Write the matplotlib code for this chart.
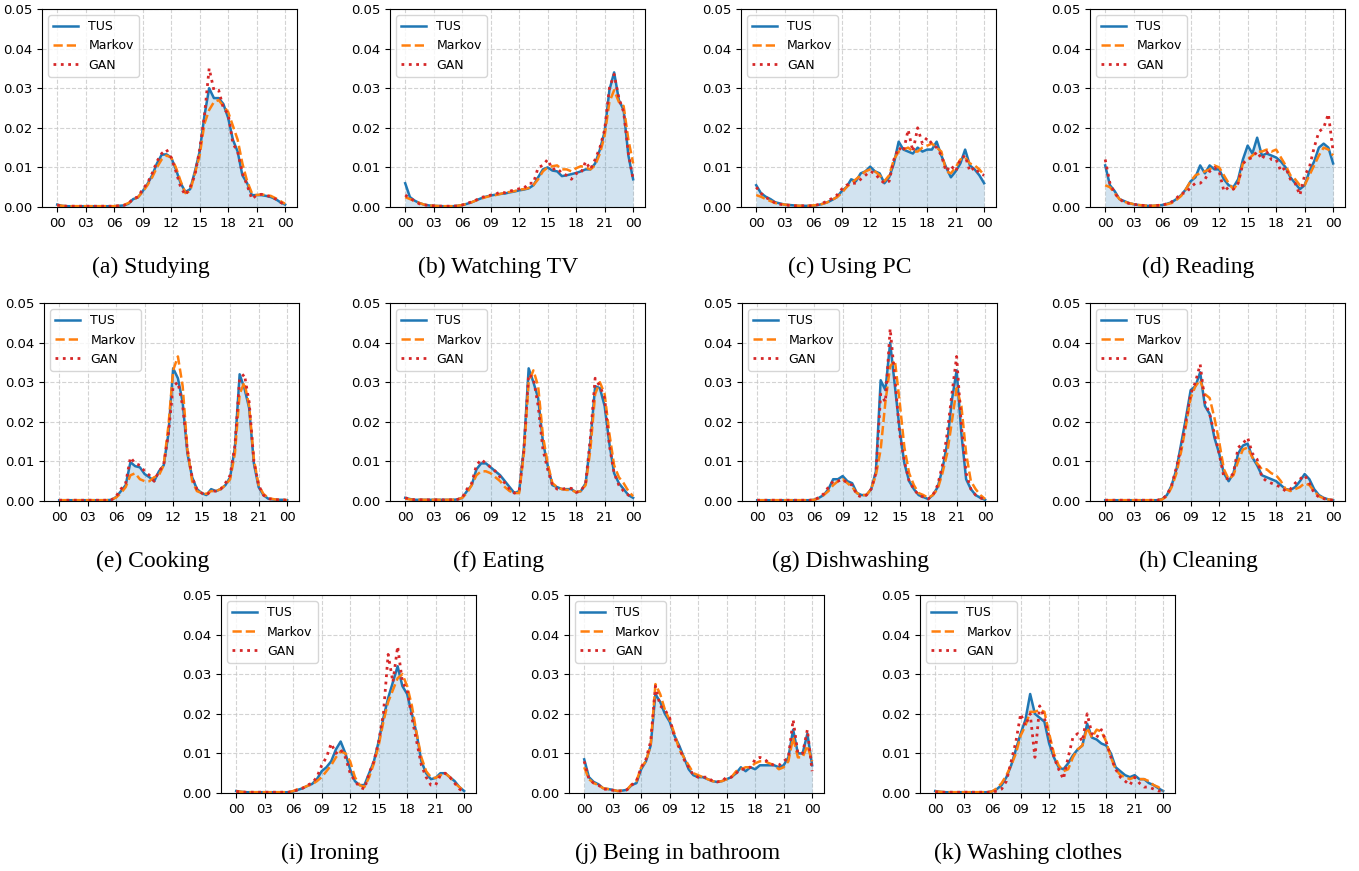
import numpy as np
import matplotlib.pyplot as plt
from matplotlib.ticker import FormatStrFormatter

# Half-hour time slots over the day (values below are in units of 1e-3)
hours = np.arange(0, 24.5, 0.5)
tick_hours = [0, 3, 6, 9, 12, 15, 18, 21, 24]
tick_labels = ["00", "03", "06", "09", "12", "15", "18", "21", "00"]
series_names = ["TUS", "Markov", "GAN"]

# (a) Studying
studying_tus = [0.6, 0.3, 0.2, 0.2, 0.2, 0.2, 0.2, 0.2, 0.2, 0.2, 0.2, 0.2,
                0.2, 0.3, 0.4, 0.8, 2.0, 2.4, 4.0, 5.8, 8.0, 11.0, 13.2, 13.3,
                12.5, 9.5, 6.0, 3.8, 4.5, 9.0, 14.0, 23.0, 30.0, 27.5, 27.5, 26.0,
                22.5, 17.0, 14.0, 8.0, 6.0, 3.0, 3.0, 3.0, 2.8, 2.5, 2.0, 1.2, 0.6]
studying_markov = [0.5, 0.3, 0.2, 0.2, 0.2, 0.2, 0.2, 0.2, 0.2, 0.2, 0.2, 0.2,
                   0.2, 0.3, 0.5, 1.0, 1.8, 2.5, 3.8, 5.5, 7.5, 10.0, 12.0, 13.0,
                   12.5, 10.0, 6.5, 3.5, 4.0, 8.5, 13.0, 21.0, 24.5, 26.5, 27.0, 25.5,
                   24.0, 20.5, 17.0, 11.0, 6.5, 3.5, 3.0, 3.2, 3.0, 2.8, 2.2, 1.5, 0.8]
studying_gan = [0.5, 0.3, 0.2, 0.2, 0.2, 0.2, 0.2, 0.2, 0.2, 0.2, 0.2, 0.2,
                0.2, 0.3, 0.4, 0.8, 2.2, 2.5, 4.5, 6.0, 8.5, 11.5, 13.5, 14.5,
                12.5, 9.0, 5.0, 3.0, 5.0, 8.0, 14.5, 23.0, 35.0, 29.5, 29.5, 25.0,
                23.5, 16.0, 14.0, 8.5, 5.5, 2.0, 3.0, 3.2, 3.0, 2.5, 2.0, 1.2, 0.5]

# (b) Watching TV
tv_tus = [6.0, 2.5, 1.6, 1.0, 0.6, 0.4, 0.3, 0.25, 0.2, 0.2, 0.2, 0.3,
          0.5, 0.8, 1.2, 1.7, 2.2, 2.6, 2.9, 3.1, 3.3, 3.4, 3.7, 3.9,
          4.2, 4.4, 4.7, 5.5, 7.5, 9.5, 10.0, 9.2, 9.0, 7.8, 8.0, 8.3,
          8.6, 9.0, 9.5, 9.5, 11.0, 14.5, 19.0, 29.5, 34.0, 27.0, 24.5, 13.0, 7.0]
tv_markov = [2.5, 2.0, 1.5, 1.0, 0.6, 0.4, 0.3, 0.25, 0.2, 0.2, 0.2, 0.3,
             0.5, 0.8, 1.2, 1.7, 2.1, 2.5, 2.8, 3.0, 3.3, 3.6, 3.8, 4.0,
             4.4, 4.5, 4.8, 5.5, 7.0, 9.0, 10.0, 10.3, 10.5, 9.5, 9.5, 9.0,
             9.8, 10.3, 10.0, 9.5, 10.5, 13.5, 18.0, 26.5, 29.5, 26.5, 25.5, 17.0, 11.0]
tv_gan = [3.0, 2.2, 1.5, 0.8, 0.5, 0.4, 0.3, 0.25, 0.2, 0.2, 0.2, 0.3,
          0.5, 0.9, 1.3, 1.8, 2.4, 2.7, 3.0, 3.2, 3.8, 3.6, 4.0, 4.3,
          4.6, 4.7, 6.0, 6.0, 10.0, 10.5, 12.0, 9.5, 9.8, 8.5, 8.0, 7.0,
          8.5, 8.5, 11.5, 9.5, 12.0, 15.0, 19.5, 30.0, 33.5, 27.5, 24.0, 13.5, 7.0]

# (c) Using PC
pc_tus = [5.5, 3.5, 2.6, 2.0, 1.2, 0.9, 0.6, 0.5, 0.4, 0.3, 0.3, 0.3,
          0.3, 0.5, 0.8, 1.2, 1.8, 2.5, 4.0, 5.0, 7.0, 6.5, 8.5, 9.0,
          10.2, 9.0, 8.5, 6.0, 7.5, 11.0, 16.5, 14.5, 14.0, 13.5, 15.0, 14.0,
          14.5, 14.5, 16.5, 13.0, 10.0, 7.5, 9.0, 11.0, 14.5, 10.5, 9.5, 8.0, 6.0]
pc_markov = [3.0, 2.6, 2.0, 1.5, 1.0, 0.8, 0.6, 0.5, 0.4, 0.3, 0.3, 0.3,
             0.4, 0.5, 0.8, 1.2, 1.8, 2.5, 3.5, 5.0, 6.0, 7.0, 8.0, 9.0,
             9.5, 9.0, 8.0, 6.5, 8.0, 12.0, 14.0, 14.5, 15.0, 14.0, 14.0, 15.0,
             15.5, 16.0, 15.0, 14.0, 9.0, 8.5, 10.0, 12.0, 12.5, 11.0, 10.5, 9.5, 8.0]
pc_gan = [5.0, 3.5, 2.4, 1.8, 1.0, 0.7, 0.5, 0.4, 0.3, 0.3, 0.3, 0.3,
          0.3, 0.6, 1.0, 1.5, 2.2, 3.0, 4.5, 5.5, 6.0, 6.0, 7.0, 8.0,
          9.0, 8.5, 7.0, 6.0, 6.5, 12.0, 15.0, 14.0, 19.5, 14.0, 20.0, 16.0,
          17.5, 16.0, 15.0, 13.0, 9.0, 10.5, 9.0, 12.0, 13.0, 9.0, 10.0, 8.5, 8.0]

# (d) Reading
reading_tus = [10.5, 5.5, 4.0, 2.0, 1.5, 1.0, 0.7, 0.5, 0.4, 0.3, 0.3, 0.4,
               0.5, 0.8, 1.2, 2.0, 3.0, 4.5, 6.5, 7.5, 10.5, 8.5, 10.5, 9.5,
               9.5, 7.0, 5.5, 5.0, 7.0, 12.0, 15.5, 13.5, 17.5, 13.0, 13.5, 13.0,
               12.5, 11.5, 10.0, 7.5, 6.0, 4.5, 5.5, 9.0, 11.5, 15.0, 16.0, 15.0, 11.0]
reading_markov = [5.5, 5.0, 3.5, 2.0, 1.3, 1.0, 0.7, 0.5, 0.4, 0.3, 0.3, 0.4,
                  0.5, 0.7, 1.0, 1.8, 2.8, 4.5, 6.5, 8.0, 8.5, 9.0, 9.5, 10.5,
                  10.0, 8.0, 6.0, 4.5, 6.0, 11.0, 12.0, 13.0, 14.0, 14.0, 14.5, 14.0,
                  14.5, 12.5, 10.5, 8.0, 7.0, 5.5, 5.5, 8.0, 10.5, 13.0, 15.0, 14.5, 13.0]
reading_gan = [12.0, 6.0, 3.5, 2.0, 1.2, 0.9, 0.7, 0.5, 0.4, 0.3, 0.3, 0.4,
               0.5, 0.8, 1.3, 2.2, 3.5, 3.5, 5.0, 6.0, 6.0, 7.0, 9.0, 10.0,
               9.0, 4.0, 5.0, 4.5, 6.0, 11.0, 12.0, 12.5, 14.0, 12.0, 14.0, 12.0,
               12.0, 9.0, 10.0, 7.0, 6.0, 3.0, 8.0, 10.0, 15.0, 19.0, 20.0, 23.5, 14.0]

# (e) Cooking
cooking_tus = [0.2, 0.2, 0.2, 0.2, 0.2, 0.2, 0.2, 0.2, 0.2, 0.2, 0.2, 0.3,
               1.0, 2.5, 4.0, 9.8, 8.8, 8.5, 6.8, 6.0, 5.0, 7.5, 9.0, 17.0,
               33.5, 31.0, 25.0, 12.0, 6.0, 3.0, 2.0, 1.5, 3.0, 2.5, 3.0, 4.0,
               6.0, 13.5, 32.0, 28.5, 23.5, 9.5, 3.5, 1.5, 0.6, 0.4, 0.3, 0.3, 0.2]
cooking_markov = [0.2, 0.2, 0.2, 0.2, 0.2, 0.2, 0.2, 0.2, 0.2, 0.2, 0.2, 0.3,
                  0.9, 2.0, 3.5, 6.5, 7.0, 5.5, 5.0, 5.0, 6.0, 6.5, 9.0, 19.0,
                  33.0, 36.5, 29.0, 13.0, 5.0, 2.5, 2.0, 1.8, 2.5, 2.5, 3.0, 4.0,
                  5.5, 12.0, 27.0, 30.0, 24.0, 10.5, 4.0, 1.8, 0.8, 0.5, 0.3, 0.3, 0.2]
cooking_gan = [0.2, 0.2, 0.2, 0.2, 0.2, 0.2, 0.2, 0.2, 0.2, 0.2, 0.2, 0.3,
               1.2, 3.0, 4.5, 11.0, 9.5, 9.0, 7.5, 6.5, 5.0, 7.5, 9.0, 17.0,
               29.0, 30.0, 24.0, 13.0, 6.0, 3.0, 2.0, 1.5, 2.5, 2.5, 3.0, 4.5,
               6.5, 14.0, 31.0, 32.0, 25.0, 10.0, 4.0, 1.5, 0.6, 0.4, 0.3, 0.3, 0.2]

# (f) Eating
eating_tus = [0.8, 0.5, 0.3, 0.3, 0.3, 0.3, 0.3, 0.3, 0.3, 0.3, 0.3, 0.4,
              0.8, 2.5, 4.0, 8.0, 9.5, 9.5, 8.5, 7.5, 6.5, 5.0, 3.5, 2.0,
              2.5, 13.5, 33.5, 30.0, 26.0, 15.0, 9.0, 4.0, 3.5, 3.0, 3.0, 3.0,
              2.2, 2.5, 4.5, 15.0, 29.0, 28.5, 24.0, 14.5, 7.0, 4.5, 3.0, 1.5, 0.8]
eating_markov = [0.6, 0.4, 0.3, 0.3, 0.3, 0.3, 0.3, 0.3, 0.3, 0.3, 0.3, 0.4,
                 0.8, 2.0, 4.0, 6.5, 7.5, 7.5, 7.0, 6.0, 5.0, 3.5, 2.5, 2.0,
                 2.0, 12.0, 30.0, 33.0, 29.0, 16.5, 9.5, 4.5, 3.5, 3.0, 2.8, 2.8,
                 2.2, 2.5, 4.0, 13.0, 27.0, 30.0, 27.0, 17.0, 9.0, 6.0, 4.5, 2.5, 1.2]
eating_gan = [0.8, 0.5, 0.3, 0.3, 0.3, 0.3, 0.3, 0.3, 0.3, 0.3, 0.3, 0.4,
              0.8, 3.0, 4.5, 9.0, 10.5, 9.5, 8.5, 7.5, 6.0, 4.5, 3.0, 2.0,
              2.5, 13.0, 32.0, 31.0, 24.0, 13.0, 8.0, 4.0, 3.0, 3.0, 3.2, 3.2,
              2.2, 2.5, 4.5, 16.0, 31.0, 29.0, 26.0, 14.0, 7.0, 4.0, 2.5, 1.5, 0.8]

# (g) Dishwashing
dish_tus = [0.2, 0.2, 0.2, 0.2, 0.2, 0.2, 0.2, 0.2, 0.2, 0.2, 0.2, 0.2,
            0.3, 0.8, 1.5, 3.0, 5.5, 5.5, 6.3, 5.0, 4.5, 2.0, 1.5, 1.5,
            3.0, 7.5, 30.5, 28.0, 40.0, 29.0, 18.0, 9.5, 5.0, 3.0, 1.5, 1.0,
            0.5, 1.5, 3.5, 8.0, 14.5, 25.5, 33.0, 17.0, 5.5, 3.0, 1.5, 0.8, 0.3]
dish_markov = [0.2, 0.2, 0.2, 0.2, 0.2, 0.2, 0.2, 0.2, 0.2, 0.2, 0.2, 0.2,
               0.3, 0.7, 1.5, 2.5, 4.0, 5.0, 5.5, 4.5, 3.5, 2.0, 1.5, 1.5,
               3.0, 6.5, 13.0, 25.0, 34.0, 35.5, 25.0, 13.5, 7.0, 4.0, 2.0, 1.5,
               0.8, 1.5, 3.0, 7.0, 12.0, 20.0, 28.5, 24.0, 12.0, 5.0, 3.0, 1.5, 0.5]
dish_gan = [0.2, 0.2, 0.2, 0.2, 0.2, 0.2, 0.2, 0.2, 0.2, 0.2, 0.2, 0.2,
            0.3, 0.9, 1.8, 3.5, 5.0, 5.0, 5.5, 4.5, 4.0, 1.5, 1.0, 1.5,
            3.0, 7.0, 27.0, 25.0, 43.5, 31.0, 17.0, 10.0, 5.0, 3.0, 1.5, 1.0,
            0.5, 1.5, 4.0, 9.0, 17.0, 27.0, 36.5, 19.0, 7.0, 3.0, 1.5, 0.8, 0.3]

# (h) Cleaning
clean_tus = [0.2, 0.2, 0.2, 0.2, 0.2, 0.2, 0.2, 0.2, 0.2, 0.2, 0.2, 0.2,
             0.5, 1.5, 4.0, 8.0, 14.5, 21.0, 28.0, 29.0, 32.5, 24.0, 22.0, 16.0,
             12.0, 7.0, 5.0, 7.0, 12.0, 14.0, 14.5, 11.0, 9.0, 6.5, 6.0, 5.5,
             5.0, 4.0, 3.0, 2.8, 3.5, 5.0, 6.8, 5.5, 3.0, 1.5, 0.8, 0.4, 0.2]
clean_markov = [0.2, 0.2, 0.2, 0.2, 0.2, 0.2, 0.2, 0.2, 0.2, 0.2, 0.2, 0.2,
                0.4, 1.2, 3.5, 7.0, 12.5, 19.0, 26.0, 29.0, 30.5, 27.0, 26.0, 21.0,
                15.0, 8.0, 5.5, 6.5, 10.0, 13.0, 13.5, 11.0, 9.5, 8.0, 8.0, 7.0,
                6.5, 5.0, 3.0, 2.5, 3.0, 3.5, 4.5, 4.0, 2.5, 1.2, 0.7, 0.4, 0.2]
clean_gan = [0.2, 0.2, 0.2, 0.2, 0.2, 0.2, 0.2, 0.2, 0.2, 0.2, 0.2, 0.2,
             0.5, 1.5, 4.0, 8.5, 13.5, 20.0, 27.0, 30.0, 34.5, 25.0, 22.0, 17.0,
             12.0, 6.0, 5.5, 7.0, 13.5, 14.5, 16.0, 12.0, 10.5, 6.0, 5.0, 4.5,
             4.0, 3.5, 2.5, 3.0, 4.5, 5.5, 6.5, 4.5, 2.0, 1.0, 0.6, 0.3, 0.2]

# (i) Ironing
iron_tus = [0.5, 0.3, 0.2, 0.2, 0.2, 0.2, 0.2, 0.2, 0.2, 0.2, 0.2, 0.2,
            0.4, 0.8, 1.2, 1.8, 2.3, 3.5, 5.5, 6.5, 8.0, 11.0, 13.0, 10.0,
            6.0, 3.0, 2.0, 2.0, 5.0, 8.0, 13.0, 19.0, 24.0, 28.0, 32.0, 27.0,
            25.0, 20.0, 15.0, 8.0, 5.0, 3.5, 3.8, 5.0, 5.0, 4.0, 3.0, 1.5, 0.5]
iron_markov = [0.5, 0.3, 0.2, 0.2, 0.2, 0.2, 0.2, 0.2, 0.2, 0.2, 0.2, 0.2,
               0.5, 1.0, 1.3, 1.8, 2.2, 3.0, 4.0, 5.5, 7.0, 9.0, 10.5, 10.0,
               8.0, 4.0, 2.0, 1.5, 4.0, 7.5, 12.0, 18.0, 23.0, 26.0, 29.0, 30.0,
               27.0, 22.0, 15.0, 9.0, 5.5, 4.0, 3.8, 4.5, 5.0, 4.0, 2.5, 1.5, 0.5]
iron_gan = [0.4, 0.3, 0.2, 0.2, 0.2, 0.2, 0.2, 0.2, 0.2, 0.2, 0.2, 0.2,
            0.4, 0.8, 1.2, 2.0, 2.5, 4.0, 7.0, 9.0, 12.5, 10.0, 11.0, 9.0,
            5.0, 3.0, 1.5, 1.0, 5.0, 8.0, 13.0, 20.0, 35.0, 28.0, 37.0, 28.0,
            26.0, 19.0, 13.0, 7.0, 4.0, 2.0, 2.0, 4.5, 5.0, 4.0, 2.5, 1.0, 0.3]

# (j) Being in bathroom
bath_tus = [8.5, 4.0, 2.8, 2.2, 1.2, 1.0, 0.8, 0.5, 0.6, 0.8, 2.0, 2.5,
            6.0, 8.0, 12.0, 25.0, 23.0, 20.0, 18.0, 14.5, 12.0, 9.0, 6.0, 4.5,
            4.0, 4.0, 3.5, 3.0, 2.8, 3.0, 3.5, 4.0, 5.0, 6.5, 5.5, 6.5,
            6.0, 7.0, 7.0, 7.0, 7.0, 6.5, 7.0, 9.0, 16.0, 10.0, 10.0, 15.0, 7.0]
bath_markov = [6.5, 3.5, 2.5, 2.0, 1.2, 1.0, 0.8, 0.5, 0.6, 0.8, 2.2, 3.0,
               6.5, 8.0, 12.0, 27.5, 25.0, 21.0, 18.5, 15.0, 11.0, 9.0, 7.0, 5.0,
               4.5, 4.0, 3.5, 3.0, 2.8, 3.0, 3.5, 4.0, 5.5, 6.0, 6.5, 6.5,
               7.5, 8.0, 8.0, 7.5, 7.0, 6.0, 6.5, 8.0, 14.0, 9.0, 9.0, 12.0, 8.0]
bath_gan = [8.0, 3.5, 2.5, 2.0, 1.0, 0.9, 0.7, 0.5, 0.5, 0.8, 2.0, 3.0,
            6.5, 8.5, 13.0, 27.0, 22.0, 21.0, 19.0, 14.0, 11.5, 8.5, 6.5, 4.5,
            4.0, 4.0, 4.0, 3.0, 2.8, 3.0, 4.0, 4.0, 5.0, 6.0, 6.0, 6.5,
            8.5, 9.0, 8.5, 7.5, 7.0, 7.0, 8.0, 9.0, 18.5, 10.0, 10.0, 16.0, 5.5]

# (k) Washing clothes
wash_tus = [0.5, 0.3, 0.2, 0.2, 0.2, 0.2, 0.2, 0.2, 0.2, 0.2, 0.2, 0.2,
            0.4, 1.0, 2.0, 4.0, 7.0, 11.0, 15.0, 18.5, 25.0, 20.0, 19.0, 18.0,
            12.5, 9.0, 6.5, 6.0, 7.5, 9.5, 11.0, 12.0, 17.5, 14.0, 13.5, 12.5,
            12.0, 10.0, 6.5, 5.5, 4.5, 4.0, 4.5, 3.5, 3.5, 2.5, 2.0, 1.2, 0.5]
wash_markov = [0.4, 0.3, 0.2, 0.2, 0.2, 0.2, 0.2, 0.2, 0.2, 0.2, 0.2, 0.2,
               0.4, 1.2, 2.5, 4.5, 7.0, 10.0, 14.5, 17.0, 20.5, 20.5, 21.0, 20.5,
               15.0, 10.0, 7.0, 5.5, 6.0, 9.0, 11.0, 12.0, 16.5, 14.0, 16.0, 15.5,
               13.0, 9.0, 6.0, 4.5, 4.0, 3.5, 4.0, 3.5, 3.5, 3.0, 2.0, 1.5, 0.5]
wash_gan = [0.3, 0.2, 0.2, 0.2, 0.2, 0.2, 0.2, 0.2, 0.2, 0.2, 0.2, 0.2,
            0.2, 0.5, 1.0, 3.0, 8.0, 13.0, 20.0, 17.0, 20.0, 9.0, 22.0, 19.0,
            14.0, 9.0, 6.0, 3.5, 9.0, 14.0, 15.0, 13.0, 20.0, 15.0, 14.0, 16.0,
            13.0, 9.0, 6.0, 4.0, 3.0, 2.0, 4.0, 2.5, 1.5, 1.5, 1.0, 0.5, 0.5]

panels = [
    ("(a) Studying", studying_tus, studying_markov, studying_gan),
    ("(b) Watching TV", tv_tus, tv_markov, tv_gan),
    ("(c) Using PC", pc_tus, pc_markov, pc_gan),
    ("(d) Reading", reading_tus, reading_markov, reading_gan),
    ("(e) Cooking", cooking_tus, cooking_markov, cooking_gan),
    ("(f) Eating", eating_tus, eating_markov, eating_gan),
    ("(g) Dishwashing", dish_tus, dish_markov, dish_gan),
    ("(h) Cleaning", clean_tus, clean_markov, clean_gan),
    ("(i) Ironing", iron_tus, iron_markov, iron_gan),
    ("(j) Being in bathroom", bath_tus, bath_markov, bath_gan),
    ("(k) Washing clothes", wash_tus, wash_markov, wash_gan),
]

W, H = 1359, 871
fig = plt.figure(figsize=(W / 100, H / 100), dpi=100)

# axes boxes in pixels: (left, top), all the same size
ax_w, ax_h = 255, 198
boxes = [(42, 9), (390, 9), (741, 9), (1090, 9),
         (44, 303), (390, 303), (742, 303), (1090, 303),
         (221, 595), (569, 595), (920, 595)]

for (caption, tus, markov, gan), (left, top) in zip(panels, boxes):
    ax = fig.add_axes([left / W, 1 - (top + ax_h) / H, ax_w / W, ax_h / H])
    tus = np.array(tus) / 1000
    markov = np.array(markov) / 1000
    gan = np.array(gan) / 1000

    ax.fill_between(hours, tus, color="#1f77b4", alpha=0.2, linewidth=0)
    ax.plot(hours, tus, color="#1f77b4", lw=1.8, label=series_names[0])
    ax.plot(hours, markov, color="#ff7f0e", lw=1.8, ls="--", label=series_names[1])
    ax.plot(hours, gan, color="#d62728", lw=2.0, ls=":", label=series_names[2])

    ax.set_xlim(-1.6, 25.25)
    ax.set_ylim(0, 0.05)
    ax.set_xticks(tick_hours)
    ax.set_xticklabels(tick_labels)
    ax.set_yticks(np.arange(0, 0.051, 0.01))
    ax.yaxis.set_major_formatter(FormatStrFormatter("%.2f"))
    ax.tick_params(labelsize=9.5)
    ax.grid(True, ls="--", color="#c8c8c8", alpha=0.8)
    ax.set_axisbelow(True)
    ax.legend(loc="upper left", fontsize=9)

    # sub-caption under each panel
    cx = left + ax_w / 2 - 19
    cy = top + ax_h + 60
    fig.text(cx / W, 1 - cy / H, caption, ha="center", va="center",
             fontsize=17, family=["Liberation Serif", "DejaVu Serif"])

fig.savefig("out.png", dpi=100)
